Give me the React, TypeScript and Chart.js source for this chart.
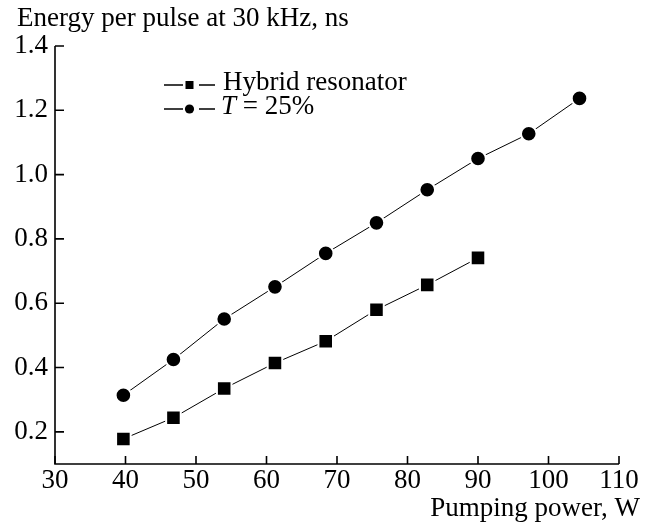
import { useEffect, useRef } from "react";
import { Chart, registerables } from "chart.js";

Chart.register(...registerables);

// Pumping power, W
const pumpPower = [39.7, 46.8, 54.0, 61.2, 68.4, 75.6, 82.8, 90.0, 97.2, 104.4];
// Energy per pulse for each configuration
const hybridEnergy = [0.178, 0.244, 0.335, 0.414, 0.482, 0.58, 0.657, 0.741];
const t25Energy = [0.314, 0.425, 0.551, 0.651, 0.755, 0.85, 0.953, 1.05, 1.127, 1.237];

const xTicks = [30, 40, 50, 60, 70, 80, 90, 100, 110];
const yTicks = [0.2, 0.4, 0.6, 0.8, 1.0, 1.2, 1.4];

const yTitle = "Energy per pulse at 30 kHz, ns";
const xTitle = "Pumping power, W";
const hybridName = "Hybrid resonator";
const t25Symbol = "T";
const t25Rest = " = 25%";

const FONT_FAMILY = "'Liberation Serif', 'Times New Roman', serif";
const FONT_SIZE = 27;

const framePlugin = {
  id: "frame",
  afterDraw(chart: any) {
    const ctx: CanvasRenderingContext2D = chart.ctx;
    const { left, right, top, bottom } = chart.chartArea;
    const xs = chart.scales.x;
    const ys = chart.scales.y;
    ctx.save();
    ctx.strokeStyle = "#000";
    ctx.fillStyle = "#000";
    ctx.lineWidth = 1.6;
    ctx.lineCap = "butt";

    // axis lines
    ctx.beginPath();
    ctx.moveTo(left, top);
    ctx.lineTo(left, bottom);
    ctx.lineTo(right, bottom);
    ctx.stroke();

    // inward tick marks
    ctx.beginPath();
    for (const v of yTicks) {
      const py = ys.getPixelForValue(v);
      ctx.moveTo(left, py);
      ctx.lineTo(left + 9, py);
    }
    for (const v of xTicks) {
      const px = xs.getPixelForValue(v);
      ctx.moveTo(px, bottom);
      ctx.lineTo(px, bottom - 8);
    }
    ctx.stroke();

    // axis titles
    ctx.font = `${FONT_SIZE}px ${FONT_FAMILY}`;
    ctx.textBaseline = "alphabetic";
    ctx.textAlign = "left";
    ctx.fillText(yTitle, 17, 26);
    ctx.textAlign = "right";
    ctx.fillText(xTitle, 640, 516);

    // legend
    const drawEntry = (cy: number, marker: "rect" | "circle") => {
      ctx.lineWidth = 1.5;
      ctx.beginPath();
      ctx.moveTo(164, cy);
      ctx.lineTo(183, cy);
      ctx.moveTo(199, cy);
      ctx.lineTo(215, cy);
      ctx.stroke();
      ctx.beginPath();
      if (marker === "rect") {
        ctx.rect(185.5, cy - 4, 8, 8);
      } else {
        ctx.arc(189.5, cy, 4.6, 0, Math.PI * 2);
      }
      ctx.fill();
    };
    drawEntry(85, "rect");
    drawEntry(109, "circle");

    ctx.textAlign = "left";
    ctx.textBaseline = "middle";
    ctx.font = `${FONT_SIZE}px ${FONT_FAMILY}`;
    ctx.fillText(hybridName, 223, 83);
    ctx.font = `italic ${FONT_SIZE}px ${FONT_FAMILY}`;
    ctx.fillText(t25Symbol, 221, 107);
    const tw = ctx.measureText(t25Symbol).width;
    ctx.font = `${FONT_SIZE}px ${FONT_FAMILY}`;
    ctx.fillText(t25Rest, 221 + tw, 107);
    ctx.restore();
  },
};

export default function App() {
  const canvasRef = useRef<HTMLCanvasElement | null>(null);

  useEffect(() => {
    if (!canvasRef.current) return;
    const chart = new Chart(canvasRef.current, {
      type: "line",
      data: {
        datasets: [
          {
            label: hybridName,
            data: hybridEnergy.map((y, i) => ({ x: pumpPower[i], y })),
            borderColor: "#000",
            borderWidth: 1,
            pointStyle: "rect",
            pointRadius: 10.3,
            pointBackgroundColor: "#000",
            pointBorderColor: "#fff",
            pointBorderWidth: 2,
            tension: 0,
          },
          {
            label: t25Symbol + t25Rest,
            data: t25Energy.map((y, i) => ({ x: pumpPower[i], y })),
            borderColor: "#000",
            borderWidth: 1,
            pointStyle: "circle",
            pointRadius: 7.8,
            pointBackgroundColor: "#000",
            pointBorderColor: "#fff",
            pointBorderWidth: 2,
            tension: 0,
          },
        ],
      },
      options: {
        responsive: true,
        maintainAspectRatio: false,
        animation: false,
        events: [],
        layout: { padding: { left: 0, top: 46, right: 31, bottom: 0 } },
        plugins: {
          legend: { display: false },
          tooltip: { enabled: false },
          title: { display: false },
        },
        scales: {
          x: {
            type: "linear",
            min: 30,
            max: 110,
            grid: { display: false, drawTicks: false },
            border: { display: false },
            afterBuildTicks: (s: any) => {
              s.ticks = xTicks.map((v) => ({ value: v }));
            },
            afterFit: (s: any) => {
              s.height = 60;
            },
            ticks: {
              color: "#000",
              padding: 1,
              maxRotation: 0,
              autoSkip: false,
              font: { family: FONT_FAMILY, size: FONT_SIZE },
              callback: (v: any) => String(v),
            },
          },
          y: {
            type: "linear",
            min: 0.1,
            max: 1.4,
            grid: { display: false, drawTicks: false },
            border: { display: false },
            afterBuildTicks: (s: any) => {
              s.ticks = yTicks.map((v) => ({ value: v }));
            },
            afterFit: (s: any) => {
              s.width = 55;
            },
            ticks: {
              color: "#000",
              padding: 7,
              autoSkip: false,
              font: { family: FONT_FAMILY, size: FONT_SIZE },
              callback: (v: any) => Number(v).toFixed(1),
            },
          },
        },
      },
      plugins: [framePlugin],
    });
    return () => chart.destroy();
  }, []);

  return (
    <div
      style={{
        position: "fixed",
        left: 0,
        top: 0,
        width: 650,
        height: 524,
        background: "#fff",
      }}
    >
      <canvas ref={canvasRef} />
    </div>
  );
}
